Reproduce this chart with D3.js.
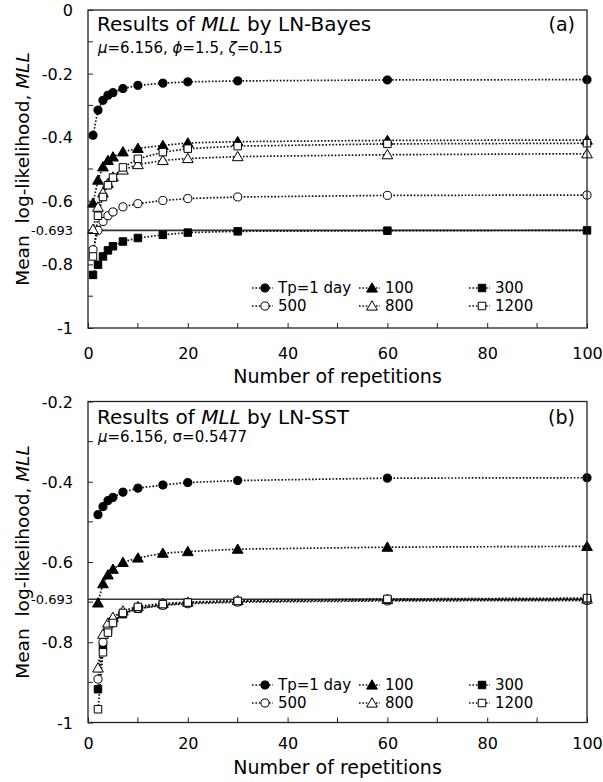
<!DOCTYPE html>
<html><head><meta charset="utf-8">
<script src="https://cdn.jsdelivr.net/npm/d3@7"></script>
<style>
body{margin:0;background:#fff;}
svg{display:block;font-family:"DejaVu Sans",Verdana,sans-serif;}
</style></head>
<body><svg id="c" width="603" height="782"></svg>
<script>
// ---------- data ----------
const seriesNames = ["Tp=1 day","100","300","500","800","1200"];
const seriesSymbols = ["circle","triangle","square","circle","triangle","square"];
const seriesFilled = [true,true,true,false,false,false];

const xA = [1,2,3,4,5,7,10,15,20,30,60,100];
const a_tp1    = [-0.394,-0.315,-0.284,-0.268,-0.260,-0.247,-0.237,-0.230,-0.226,-0.223,-0.220,-0.219];
const a_tp100  = [-0.607,-0.535,-0.493,-0.473,-0.462,-0.446,-0.435,-0.426,-0.418,-0.414,-0.410,-0.409];
const a_tp300  = [-0.833,-0.801,-0.775,-0.756,-0.743,-0.728,-0.717,-0.707,-0.700,-0.696,-0.694,-0.693];
const a_tp500  = [-0.754,-0.693,-0.665,-0.647,-0.635,-0.619,-0.609,-0.599,-0.593,-0.588,-0.583,-0.582];
const a_tp800  = [-0.690,-0.620,-0.575,-0.545,-0.525,-0.503,-0.486,-0.473,-0.467,-0.461,-0.455,-0.452];
const a_tp1200 = [-0.775,-0.647,-0.588,-0.551,-0.527,-0.495,-0.468,-0.447,-0.436,-0.428,-0.421,-0.419];

const xB = [2,3,4,5,7,10,15,20,30,60,100];
const b_tp1    = [-0.482,-0.462,-0.447,-0.439,-0.426,-0.416,-0.408,-0.402,-0.397,-0.391,-0.390];
const b_tp100  = [-0.702,-0.654,-0.632,-0.618,-0.601,-0.590,-0.578,-0.574,-0.568,-0.563,-0.561];
const b_tp300  = [-0.917,-0.810,-0.770,-0.750,-0.730,-0.716,-0.707,-0.702,-0.698,-0.695,-0.694];
const b_tp500  = [-0.892,-0.800,-0.765,-0.745,-0.728,-0.716,-0.708,-0.704,-0.700,-0.697,-0.696];
const b_tp800  = [-0.864,-0.780,-0.752,-0.738,-0.722,-0.711,-0.703,-0.700,-0.696,-0.693,-0.692];
const b_tp1200 = [-0.967,-0.825,-0.776,-0.752,-0.727,-0.712,-0.705,-0.701,-0.697,-0.692,-0.690];

const xTicks = [0,20,40,60,80,100];
const xMinor = [10,30,50,70,90];
const yTicksA = [0,-0.2,-0.4,-0.6,-0.8,-1];
const yTicksB = [-0.2,-0.4,-0.6,-0.8,-1];
const yMinorA = [-0.1,-0.3,-0.5,-0.7,-0.9];
const yMinorB = [-0.3,-0.5,-0.7,-0.9];
const refValue = -0.693;
const refLabel = "-0.693";
const yLabelFmt = v => v === 0 ? "0" : (v === -1 ? "-1" : String(v));

// ---------- drawing ----------
const svg = d3.select("#c");
const L = 88, R = 587;

function symPath(name){
  const t = name==="circle"?d3.symbolCircle:(name==="square"?d3.symbolSquare:d3.symbolTriangle);
  const s = name==="circle"?52:(name==="square"?56:50);
  return d3.symbol().type(t).size(s)();
}

function panel(cfg){
  const x = d3.scaleLinear().domain([0,100]).range([L,R]);
  const y = d3.scaleLinear().domain(cfg.yDomain).range([cfg.bottom,cfg.top]);
  const g = svg.append("g");

  // ref line
  g.append("line").attr("x1",L).attr("x2",R).attr("y1",y(refValue)).attr("y2",y(refValue))
    .attr("stroke","#333").attr("stroke-width",1.6);

  // series
  const lineGen = d3.line().x(d=>x(d[0])).y(d=>y(d[1]));
  cfg.series.forEach((vals,i)=>{
    const pts = cfg.xs.map((xv,j)=>[xv,vals[j]]);
    g.append("path").attr("d",lineGen(pts)).attr("fill","none")
      .attr("stroke","#111").attr("stroke-width",1.7).attr("stroke-dasharray","1.6,1.8");
  });
  cfg.series.forEach((vals,i)=>{
    const p = symPath(seriesSymbols[i]);
    cfg.xs.forEach((xv,j)=>{
      g.append("path").attr("d",p)
        .attr("transform",`translate(${x(xv)},${y(vals[j]) + (seriesSymbols[i]==="triangle"?1:0)})`)
        .attr("fill",seriesFilled[i]?"#000":"#fff").attr("stroke","#000").attr("stroke-width",1);
    });
  });

  // frame
  g.append("rect").attr("x",L).attr("y",cfg.top).attr("width",R-L).attr("height",cfg.bottom-cfg.top)
    .attr("fill","none").attr("stroke","#222").attr("stroke-width",1.3);

  // axes ticks (inside)
  const xAxis = d3.axisBottom(x).tickValues(xTicks).tickSizeInner(-5).tickSizeOuter(0).tickFormat(d=>d);
  const gx = g.append("g").attr("transform",`translate(0,${cfg.bottom})`).call(xAxis);
  gx.select(".domain").remove();
  gx.selectAll("text").attr("font-size",16).attr("fill","#000").attr("dy",0).attr("y",cfg.xLabelY-cfg.bottom).attr("dominant-baseline","central").style("font-family","DejaVu Sans");
  gx.selectAll("line").attr("stroke","#222");
  xMinor.forEach(v=>g.append("line").attr("x1",x(v)).attr("x2",x(v)).attr("y1",cfg.bottom).attr("y2",cfg.bottom-5).attr("stroke","#222"));

  const yAxis = d3.axisLeft(y).tickValues(cfg.yTicks).tickSizeInner(-5).tickSizeOuter(0).tickFormat(yLabelFmt);
  const gy = g.append("g").attr("transform",`translate(${L},0)`).call(yAxis);
  gy.select(".domain").remove();
  gy.selectAll("text").attr("font-size",16).attr("fill","#000").attr("x",-15).attr("dy",0).attr("dominant-baseline","central").style("font-family","DejaVu Sans");
  gy.selectAll("line").attr("stroke","#222");
  cfg.yMinor.forEach(v=>g.append("line").attr("x1",L).attr("x2",L+5).attr("y1",y(v)).attr("y2",y(v)).attr("stroke","#222"));
  g.append("text").attr("x",L-15).attr("y",y(refValue)).attr("text-anchor","end").attr("dominant-baseline","central")
    .attr("font-size",13).text(refLabel);

  // axis titles
  g.append("text").attr("x",(L+R)/2).attr("y",cfg.xTitleY).attr("text-anchor","middle").attr("dominant-baseline","central")
    .attr("font-size",19).text("Number of repetitions");
  const yt = g.append("text").attr("transform",`translate(22,${(cfg.top+cfg.bottom)/2}) rotate(-90)`)
    .attr("text-anchor","middle").attr("dominant-baseline","central").attr("font-size",18.5)
    .style("white-space","pre");
  yt.append("tspan").text("Mean  log-likelihood, ");
  yt.append("tspan").attr("font-style","italic").text("MLL");

  // title
  const tt = g.append("text").attr("x",97).attr("y",cfg.titleY).attr("font-size",20);
  tt.append("tspan").text("Results of ");
  tt.append("tspan").attr("font-style","italic").text("MLL");
  tt.append("tspan").text(" by " + cfg.method);
  g.append("text").attr("x",575).attr("y",cfg.titleY).attr("text-anchor","end").attr("font-size",19).text(cfg.tag);
  const st = g.append("text").attr("x",98).attr("y",cfg.subY).attr("font-size",15);
  cfg.sub.forEach(s=>st.append("tspan").attr("font-style",s[1]?"italic":"normal").text(s[0]));

  // legend
  const colX = [265,372,482];
  const rowY = cfg.legendY;
  seriesNames.forEach((nm,i)=>{
    const cx = colX[i%3], cy = rowY[Math.floor(i/3)];
    g.append("line").attr("x1",cx-13).attr("x2",cx+8).attr("y1",cy).attr("y2",cy)
      .attr("stroke","#111").attr("stroke-width",1.7).attr("stroke-dasharray","1.6,1.8");
    g.append("path").attr("d",symPath(seriesSymbols[i]))
      .attr("transform",`translate(${cx},${cy + (seriesSymbols[i]==="triangle"?1:0)})`)
      .attr("fill",seriesFilled[i]?"#000":"#fff").attr("stroke","#000").attr("stroke-width",1);
    g.append("text").attr("x",cx+13).attr("y",cy).attr("dominant-baseline","central").attr("font-size",15).text(nm);
  });
}

panel({
  top:10, bottom:328, yDomain:[-1,0], xs:xA,
  series:[a_tp1,a_tp100,a_tp300,a_tp500,a_tp800,a_tp1200],
  yTicks:yTicksA, yMinor:yMinorA, xLabelY:353, xTitleY:376,
  titleY:31, subY:53, method:"LN-Bayes", tag:"(a)",
  sub:[["\u03bc",true],["=6.156, ",false],["\u03d5",true],["=1.5, ",false],["\u03b6",true],["=0.15",false]],
  legendY:[288,306]
});
panel({
  top:401.5, bottom:722.5, yDomain:[-1,-0.2], xs:xB,
  series:[b_tp1,b_tp100,b_tp300,b_tp500,b_tp800,b_tp1200],
  yTicks:yTicksB, yMinor:yMinorB, xLabelY:743, xTitleY:767,
  titleY:424, subY:442, method:"LN-SST", tag:"(b)",
  sub:[["\u03bc",true],["=6.156, \u03c3=0.5477",false]],
  legendY:[685,703]
});
</script></body></html>
